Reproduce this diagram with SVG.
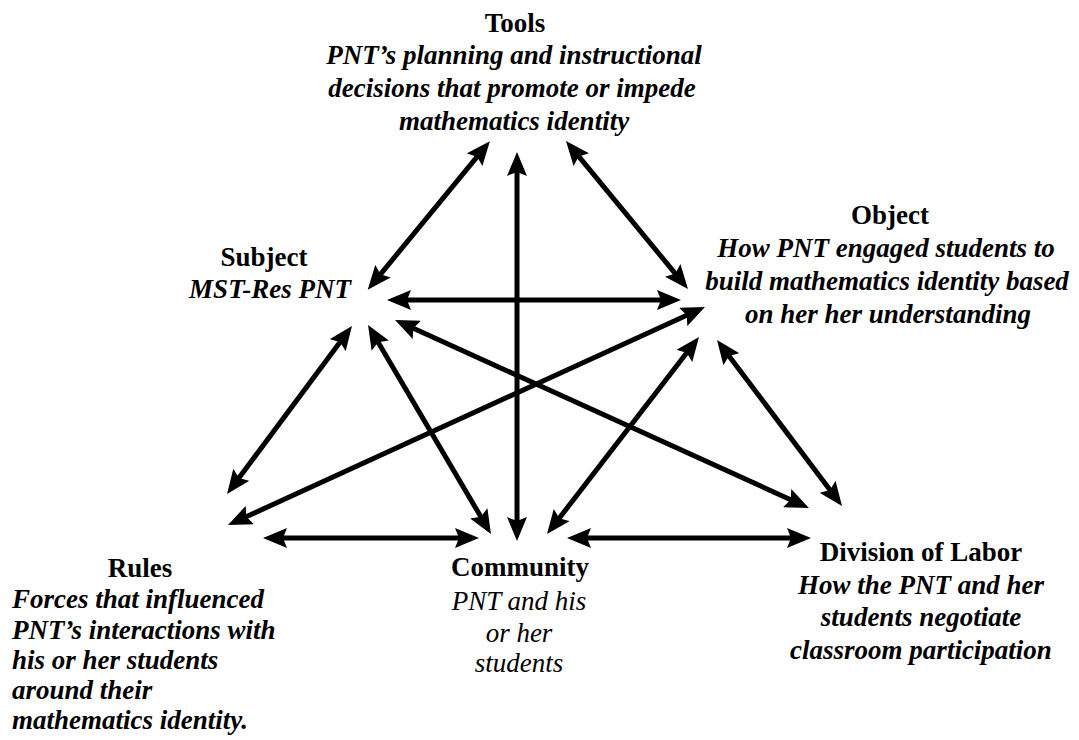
<svg xmlns="http://www.w3.org/2000/svg" width="1079" height="740" viewBox="0 0 1079 740">
<style>
  .h { font-family: "Liberation Serif", "Times New Roman", serif; font-weight: bold; font-size: 27px; fill: #000; }
  .d { font-family: "Liberation Serif", "Times New Roman", serif; font-weight: bold; font-style: italic; font-size: 27px; fill: #000; }
  .di { font-family: "Liberation Serif", "Times New Roman", serif; font-style: italic; font-size: 27px; fill: #000; }
  .c { text-anchor: middle; }
  .arr { stroke: #000; stroke-width: 5; fill: none; marker-start: url(#ah); marker-end: url(#ah); }
</style>
<defs>
  <marker id="ah" viewBox="0 0 24 20" refX="16" refY="10" markerWidth="24" markerHeight="20" markerUnits="userSpaceOnUse" orient="auto-start-reverse">
    <path d="M0,0 L24,10 L0,20 L4,10 Z" fill="#000"/>
  </marker>
</defs>
<rect width="1079" height="740" fill="#fff"/>
<g id="connectors">
  <line class="arr" x1="484.8" y1="147.4" x2="372.8" y2="283.6"/>
  <line class="arr" x1="517" y1="160" x2="517" y2="533"/>
  <line class="arr" x1="571.1" y1="147.2" x2="682.9" y2="282.8"/>
  <line class="arr" x1="395" y1="300" x2="673" y2="300"/>
  <line class="arr" x1="347.2" y1="332.4" x2="231.8" y2="487.6"/>
  <line class="arr" x1="372.1" y1="331.9" x2="486.9" y2="527.1"/>
  <line class="arr" x1="402.3" y1="323.3" x2="801.7" y2="504.7"/>
  <line class="arr" x1="235.3" y1="521.7" x2="697.7" y2="310.3"/>
  <line class="arr" x1="694.1" y1="343.3" x2="551.9" y2="527.7"/>
  <line class="arr" x1="721.8" y1="346.4" x2="837.2" y2="499.6"/>
  <line class="arr" x1="271" y1="538" x2="471" y2="538"/>
  <line class="arr" x1="575" y1="538" x2="803" y2="538"/>
</g>
<g id="tools">
  <text class="h c" x="515" y="32">Tools</text>
  <text class="d c" x="514" y="64">PNT’s planning and instructional</text>
  <text class="d c" x="512" y="97">decisions that promote or impede</text>
  <text class="d c" x="514" y="130">mathematics identity</text>
</g>
<g id="subject">
  <text class="h c" x="264" y="266">Subject</text>
  <text class="d c" x="270" y="298">MST-Res PNT</text>
</g>
<g id="object">
  <text class="h c" x="890" y="224">Object</text>
  <text class="d c" x="886" y="257">How PNT engaged students to</text>
  <text class="d c" x="887" y="290">build mathematics identity based</text>
  <text class="d c" x="888" y="323">on her her understanding</text>
</g>
<g id="rules">
  <text class="h c" x="140" y="577">Rules</text>
  <text class="d" x="12" y="608">Forces that influenced</text>
  <text class="d" x="12" y="639">PNT’s interactions with</text>
  <text class="d" x="12" y="669">his or her students</text>
  <text class="d" x="12" y="699">around their</text>
  <text class="d" x="12" y="729">mathematics identity<tspan class="di">.</tspan></text>
</g>
<g id="community">
  <text class="h c" x="520" y="576">Community</text>
  <text class="di c" x="519" y="610">PNT and his</text>
  <text class="di c" x="519" y="642">or her</text>
  <text class="di c" x="519" y="672">students</text>
</g>
<g id="division">
  <text class="h c" x="921" y="561">Division of Labor</text>
  <text class="d c" x="921" y="594">How the PNT and her</text>
  <text class="d c" x="921" y="626">students negotiate</text>
  <text class="d c" x="921" y="659">classroom participation</text>
</g>
</svg>
